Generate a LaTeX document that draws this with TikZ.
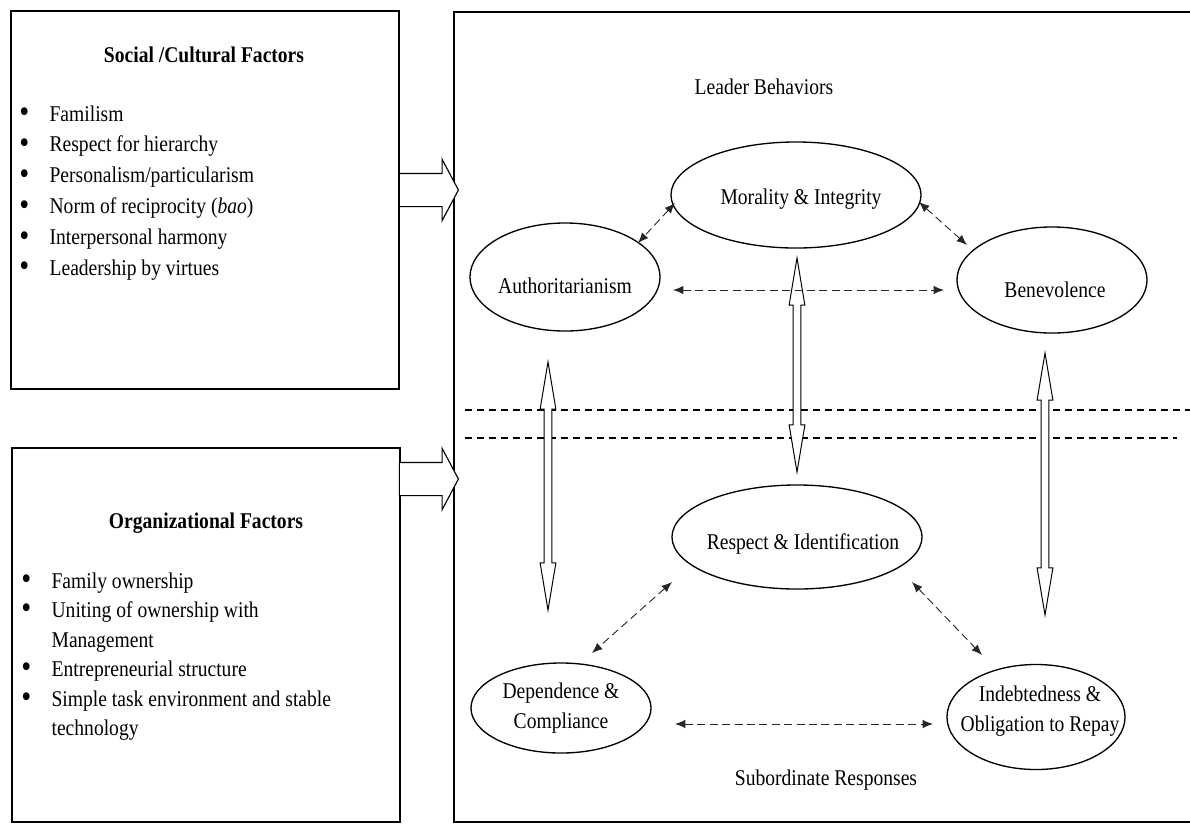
\documentclass[tikz,border=0pt]{standalone}
\usepackage{fontspec}
\setmainfont{Liberation Serif}[FakeStretch=0.87]
\usetikzlibrary{shapes.geometric, shapes.arrows, arrows.meta, positioning}
\newcommand{\listdot}{\raisebox{-0.9pt}{\scalebox{1.45}{\textbullet}}}

\begin{document}
\begin{tikzpicture}[x=0.025cm, y=-0.025cm,
    font=\fontsize{16}{21}\selectfont,
    factorbox/.style={draw, line width=0.9pt, inner sep=0pt},
    oval/.style={draw, ellipse, line width=0.95pt, inner sep=0pt},
    fatarrow/.style={draw, fill=white, line width=0.8pt, single arrow, inner xsep=0pt, inner ysep=0.4cm, minimum width=1.5cm, minimum height=1.475cm, single arrow head extend=0.35cm, single arrow tip angle=124},
    linkarrow/.style={draw, fill=white, line width=0.7pt, double arrow, rotate=90, inner xsep=0pt, inner ysep=0.085cm, minimum width=0.38cm, double arrow head extend=0.1cm, double arrow tip angle=19},
    dasharrow/.style={black!85, line width=0.65pt, dash pattern=on 0.2cm off 0.11cm, {Latex[length=0.26cm,width=0.21cm]}-{Latex[length=0.26cm,width=0.21cm]}},
    divider/.style={line width=1.4pt, dash pattern=on 0.18cm off 0.12cm}]
    \useasboundingbox (0,0) rectangle (1190,825);
    \clip (0,0) rectangle (1190,825);

    \node[factorbox, minimum width=9.7cm, minimum height=9.45cm] (social) at (205,200) {};
    \node[font=\bfseries\fontsize{16}{21}\selectfont] (socialTitle) at (204,55) {Social /Cultural Factors};
    \node[anchor=base west, inner sep=0pt, font=\fontsize{16}{22}\selectfont] (socialList) at (19,121) {%
        \begin{tabular}[t]{@{}l@{\hspace{14.5pt}}l@{}}
        \listdot & Familism\\
        \listdot & Respect for hierarchy\\
        \listdot & Personalism/particularism\\
        \listdot & Norm of reciprocity (\textit{bao})\\
        \listdot & Interpersonal harmony\\
        \listdot & Leadership by virtues
        \end{tabular}};

    \node[factorbox, minimum width=9.7cm, minimum height=9.35cm] (org) at (206,635) {};
    \node[font=\bfseries\fontsize{16}{21}\selectfont] (orgTitle) at (206,523) {Organizational Factors};
    \node[anchor=base west, inner sep=0pt, font=\fontsize{16}{21}\selectfont] (orgList) at (21,588) {%
        \begin{tabular}[t]{@{}l@{\hspace{14.5pt}}l@{}}
        \listdot & Family ownership\\
        \listdot & Uniting of ownership with\\
                 & Management\\
        \listdot & Entrepreneurial structure\\
        \listdot & Simple task environment and stable\\
                 & technology
        \end{tabular}};

    \node[factorbox, minimum width=18.65cm, minimum height=20.25cm] (model) at (827,417) {};
    \node (leaderLabel) at (764,87) {Leader Behaviors};
    \node (subLabel) at (826,780) {Subordinate Responses};

    \node[fatarrow] (socialArrow) at (424.5,190) {};
    \node[fatarrow] (orgArrow) at (424.5,479) {};

    \node[oval, minimum width=6.25cm, minimum height=2.65cm] (moral) at (796,195) {};
    \node (moralText) at ([shift={(5,4)}]moral.center) {Morality \& Integrity};
    \node[oval, minimum width=4.75cm, minimum height=2.7cm] (auth) at (565,277) {};
    \node (authText) at ([shift={(0,9)}]auth.center) {Authoritarianism};
    \node[oval, minimum width=4.75cm, minimum height=2.65cm] (bene) at (1052,280) {};
    \node (beneText) at ([shift={(3,10)}]bene.center) {Benevolence};

    \node[oval, minimum width=6.25cm, minimum height=2.6cm] (respect) at (797,537) {};
    \node (respectText) at ([shift={(6,7)}]respect.center) {Respect \& Identification};
    \node[oval, minimum width=4.5cm, minimum height=2.25cm] (dep) at (561,708) {};
    \node[align=center] (depText) at (dep.center) {Dependence \&\\Compliance};
    \node[oval, minimum width=4.45cm, minimum height=2.625cm] (indebt) at (1036,717) {};
    \node[align=center] (indebtText) at ([shift={(4,-6)}]indebt.center) {Indebtedness \&\\Obligation to Repay};

    \draw[divider] (465,410) -- (1190,410);
    \draw[divider] (465,438) -- (1177,438);

    \node[linkarrow, minimum height=6.2cm] (linkAuth) at (548,486) {};
    \node[linkarrow, minimum height=5.35cm] (linkMoral) at (797,365) {};
    \node[linkarrow, minimum height=6.55cm] (linkBene) at (1045,484) {};

    \draw[dasharrow] ([shift={(-121,8)}]moral.center) -- ([shift={(73,-34)}]auth.center);
    \draw[dasharrow] ([shift={(123,7)}]moral.center) -- ([shift={(-85,-35)}]bene.center);
    \draw[dasharrow] ([shift={(108,13)}]auth.center) -- ([shift={(-108,10)}]bene.center);
    \draw[dasharrow] ([shift={(-125,45)}]respect.center) -- ([shift={(31,-55)}]dep.center);
    \draw[dasharrow] ([shift={(115,45)}]respect.center) -- ([shift={(-54,-62)}]indebt.center);
    \draw[dasharrow] ([shift={(114,16)}]dep.center) -- ([shift={(-103,7)}]indebt.center);
\end{tikzpicture}
\end{document}
